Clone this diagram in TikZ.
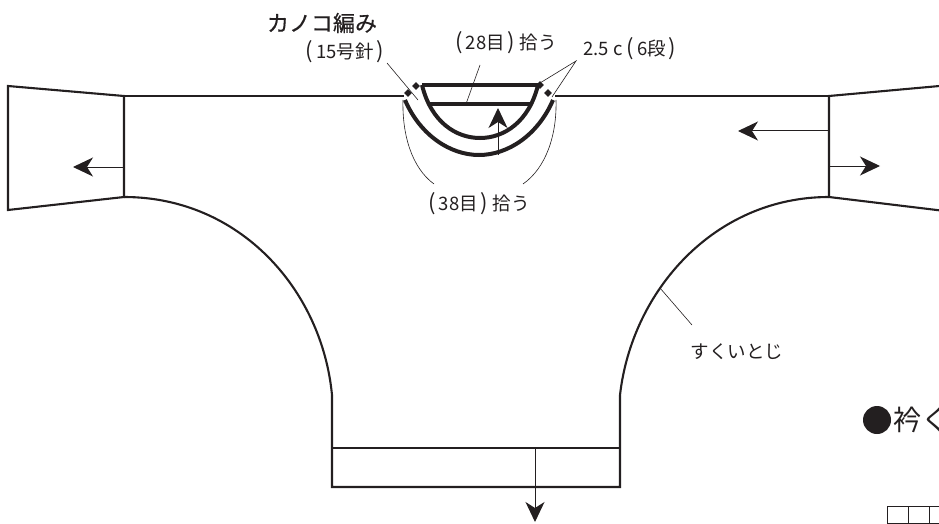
\documentclass[tikz,border=0pt]{standalone}
\usepackage{fontspec}
\setmainfont{Noto Sans CJK JP}
\newfontfamily\boldcjk[FakeBold=0.5]{Noto Sans CJK JP}
\usetikzlibrary{arrows.meta,shapes.geometric}
\definecolor{ink}{HTML}{231F20}
\newcommand{\pO}{{\fontsize{22pt}{20pt}\selectfont\raisebox{-0.5pt}{(}}\hspace{3pt}}
\newcommand{\pC}{\hspace{3pt}{\fontsize{22pt}{20pt}\selectfont\raisebox{-0.5pt}{)}}}
\tikzset{
  x=1pt,y=-1pt,
  outline/.style={draw=ink,line width=2.1pt,line join=miter},
  thick band/.style={draw=ink,line width=4pt},
  leader/.style={draw=ink,line width=0.6pt},
  pull/.style={draw=ink,line width=1pt,-{Stealth[length=20pt,width=19pt,inset=6pt]}},
  label/.style={inner sep=0pt,font=\fontsize{18.5pt}{20pt}\selectfont,text=ink},
  stitch/.style={fill=ink,inner sep=0pt,minimum size=8pt,diamond},
}
\begin{document}
\begin{tikzpicture}
\useasboundingbox (0,0) rectangle (939,524);
\clip (0,0) rectangle (939,524);
% anchors of the body outline
\coordinate (slLt) at (8,86);
\coordinate (slLb) at (8,210);
\coordinate (tl) at (124,96);
\coordinate (bl) at (124,197);
\coordinate (tr) at (829,96);
\coordinate (br) at (829,197);
\coordinate (slRt) at (945,85.5);
\coordinate (slRb) at (945,211);
\coordinate (nl) at (404,96);
\coordinate (nr) at (555,96);
\coordinate (hemTL) at (332,395);
\coordinate (hemTR) at (620,395);
\coordinate (hemML) at (332,448);
\coordinate (hemMR) at (620,448);
\coordinate (hemBL) at (332,487);
\coordinate (hemBR) at (620,487);
% outline
\draw[outline] (tl) -- (slLt) -- (slLb) -- (bl) -- cycle;
\draw[outline] (tl) -- (nl);
\draw[outline] (nr) -- (tr);
\draw[outline] (slRt) -- (tr) -- (br) -- (slRb);
\draw[outline] (bl) .. controls (240,197) and (322,290) .. (hemTL) -- (hemBL) -- (hemBR) -- (hemTR)
  .. controls (632,290) and (715,197) .. (br);
\draw[outline,line width=1.7pt] (hemML) -- (hemMR);
% neck bands
\coordinate (iTL) at (422,85);
\coordinate (iTR) at (538,85);
\coordinate (iML) at (430,104);
\coordinate (iMR) at (530,104);
\coordinate (oL) at (405,100);
\coordinate (oR) at (553,100);
\draw[thick band] (iTL) -- (iTR);
\draw[thick band] (iML) -- (iMR);
\draw[thick band] (iTL) .. controls (431,122) and (456,138) .. (480,138) .. controls (504,138) and (529,122) .. (iTR);
\draw[thick band] (oL) .. controls (420,135) and (450,155) .. (479,155) .. controls (508,155) and (538,135) .. (oR);
% stitch markers
\node[stitch] (m1) at (408,93) {};
\node[stitch] (m2) at (416,86) {};
\node[stitch] (m3) at (540,85) {};
\node[stitch] (m4) at (548,93) {};
% labels
\node[inner sep=0pt,text=ink,font=\boldcjk\fontsize{22pt}{24pt}\selectfont] (title) at (322,23) {カノコ編み};
\node[label] (needle) at (345,52) {\pO 15号針\pC};
\node[label] (l28) at (506,43) {\pO 28目\pC{} 拾う};
\node[label,anchor=west] (l25) at (583,49) {2.5 c \pO 6段\pC};
\node[label] (l38) at (479,204) {\pO 38目\pC{} 拾う};
\node[label] (sukui) at (737,352) {すくいとじ};
% leaders
\coordinate (needleEnd) at (387,63);
\coordinate (needleTip) at (418,100);
\coordinate (l28End) at (480,65);
\coordinate (l28Tip) at (466,104);
\coordinate (l25End) at (576,61);
\coordinate (l25TipA) at (540,83);
\coordinate (l25TipB) at (552,97);
\draw[leader] (needleEnd) -- (needleTip);
\draw[leader] (l28End) -- (l28Tip);
\draw[leader] (l25TipA) -- (l25End) -- (l25TipB);
\coordinate (a1) at (403,100);
\coordinate (a2) at (434,184);
\coordinate (a3) at (556,100);
\coordinate (a4) at (523,184);
\draw[leader] (a1) .. controls (402,135) and (412,168) .. (a2);
\draw[leader] (a3) .. controls (557,135) and (546,168) .. (a4);
\coordinate (sk1) at (660,288);
\coordinate (sk2) at (692,325);
\draw[leader] (sk1) -- (sk2);
% pick-up arrows
\coordinate (p1s) at (124,167);
\coordinate (p1e) at (73,167);
\coordinate (p2s) at (829,131);
\coordinate (p2e) at (738,131);
\coordinate (p3s) at (829,166);
\coordinate (p3e) at (880,166);
\coordinate (p4s) at (535,448);
\coordinate (p4e) at (535,522);
\coordinate (p5s) at (498,155);
\coordinate (p5e) at (498,108);
\draw[pull] (p1s) -- (p1e);
\draw[pull] (p2s) -- (p2e);
\draw[pull] (p3s) -- (p3e);
\draw[pull] (p4s) -- (p4e);
\draw[pull] (p5s) -- (p5e);
% cut-off heading
\node[circle,fill=ink,inner sep=0pt,minimum size=28pt] (dot) at (877,420) {};
\node[anchor=west,inner sep=0pt,text=ink,font=\fontsize{28pt}{30pt}\selectfont] (head) at (893,420) {衿く};
% cut-off chart grid
\draw[draw=ink,line width=0.6pt] (960,506) -- (887,506) -- (887,523) -- (960,523)
  (908,506) -- (908,523) (929,506) -- (929,523);
\end{tikzpicture}
\end{document}
